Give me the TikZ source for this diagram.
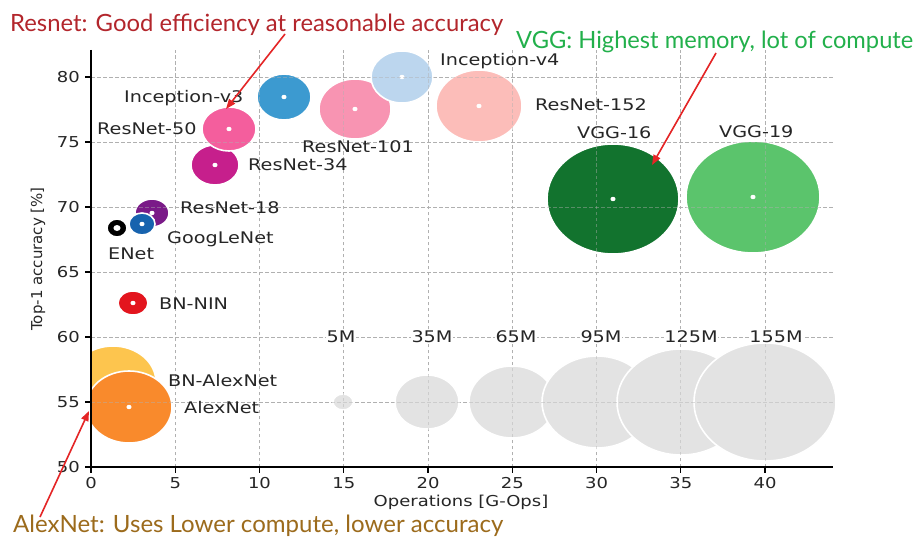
\documentclass[tikz,border=0pt]{standalone}
\usepackage{fontspec}
\usepackage{graphicx}
\usetikzlibrary{arrows.meta}
\newfontfamily\pf[FakeStretch=1.2]{DejaVu Sans}
\newfontfamily\pfn{DejaVu Sans}
\newfontfamily\ttlfont{Lato}
\definecolor{plottext}{HTML}{262626}
\definecolor{gridgray}{HTML}{B0B0B0}
\definecolor{bubgray}{HTML}{E3E3E3}
\definecolor{cENet}{HTML}{000000}
\definecolor{cGoog}{HTML}{1763AE}
\definecolor{cR18}{HTML}{7A1A88}
\definecolor{cR34}{HTML}{C61F8C}
\definecolor{cR50}{HTML}{F45E9D}
\definecolor{cR101}{HTML}{F894B2}
\definecolor{cR152}{HTML}{FCBDB9}
\definecolor{cIv3}{HTML}{3C9AD0}
\definecolor{cIv4}{HTML}{BCD6EE}
\definecolor{cV16}{HTML}{12732E}
\definecolor{cV19}{HTML}{5BC46C}
\definecolor{cNIN}{HTML}{E3151E}
\definecolor{cBNA}{HTML}{FDC54E}
\definecolor{cAlex}{HTML}{F98A2C}
\definecolor{resred}{HTML}{B3262C}
\definecolor{vggreen}{HTML}{22B04B}
\definecolor{alexbrown}{HTML}{9C6B1C}
\definecolor{arrowred}{HTML}{E42526}
\newcommand\mybub[5]{%
  \path[fill=#5, draw=white, line width=1.6pt] (#1,#2) ellipse [x radius=#3, y radius=#4];
  \fill[white] (#1,#2) ellipse [x radius=2.6, y radius=2.2];}
\newcommand\graybub[3]{%
  \path[fill=bubgray, draw=white, line width=1.6pt] (#1,402) ellipse [x radius=#2, y radius=#3];}
\begin{document}
\begin{tikzpicture}[x=1pt,y=-1pt,
  lbl/.style={font=\pf\fontsize{16}{18}\selectfont, text=plottext, anchor=base west, inner sep=0pt},
  ticklbl/.style={font=\pf\fontsize{15}{17}\selectfont, text=plottext, inner sep=0pt},
  sizelbl/.style={font=\pf\fontsize{16}{18}\selectfont, text=plottext, fill=white, inner sep=0.6pt},
  gridline/.style={draw=gridgray, line width=0.9pt, dash pattern=on 3.5pt off 2.5pt},
  redarrow/.style={draw=arrowred, line width=1.6pt, -{Triangle[length=10pt,width=7.5pt]}},
  ttl/.style={inner sep=0pt, anchor=base west}]
\useasboundingbox (0,0) rectangle (917,540);
\fill[white] (0,0) rectangle (917,540);
% grid (under)
\foreach \k in {1,...,8} \draw[gridline] ({91+84.25*\k},467) -- ({91+84.25*\k},50);
\foreach \k in {1,...,6} \draw[gridline] (91,{467-65*\k}) -- (833,{467-65*\k});
% bubbles
\begin{scope}
\clip (91,40) rectangle (840,467);
\mybub{117}{228}{10}{9}{cENet}
\fill[white] (117,228) ellipse [x radius=3.6, y radius=3];
\mybub{152}{213}{17}{14}{cR18}
\mybub{142}{224}{13}{11}{cGoog}
\mybub{133}{303}{15}{12}{cNIN}
\mybub{113}{382}{43}{36}{cBNA}
\mybub{129}{407}{43}{36}{cAlex}
\mybub{215}{165}{24}{20}{cR34}
\mybub{229}{129}{27}{22}{cR50}
\mybub{284}{97}{27}{23}{cIv3}
\mybub{355}{109}{36}{30}{cR101}
\mybub{402}{77}{31}{26}{cIv4}
\mybub{479}{106}{43}{36}{cR152}
\mybub{613}{199}{66}{55}{cV16}
\mybub{753}{197}{67}{56}{cV19}
\graybub{343}{10}{8}
\graybub{427}{32}{27}
\graybub{512}{43}{36}
\graybub{597}{55}{46}
\graybub{681}{64}{53}
\graybub{765}{71}{59}
\end{scope}
% grid (faint, over bubbles)
\begin{scope}[opacity=0.45]
\foreach \k in {1,...,8} \draw[gridline] ({91+84.25*\k},467) -- ({91+84.25*\k},50);
\foreach \k in {1,...,6} \draw[gridline] (91,{467-65*\k}) -- (833,{467-65*\k});
\end{scope}
% axes
\draw[black, line width=2pt] (91,50) -- (91,467) -- (833,467);
\foreach \k in {0,...,8} \draw[black, line width=1.4pt] ({91+84.25*\k},467) -- ({91+84.25*\k},473);
\foreach \k in {0,...,6} \draw[black, line width=1.4pt] (91,{467-65*\k}) -- (85,{467-65*\k});
\foreach \k/\t in {0/0,1/5,2/10,3/15,4/20,5/25,6/30,7/35,8/40}
  \node[ticklbl, anchor=north] (xt\k) at ({91+84.25*\k},477) {\t};
\foreach \k/\t in {0/50,1/55,2/60,3/65,4/70,5/75,6/80}
  \node[ticklbl, anchor=east] (yt\k) at (80,{467-65*\k}) {\t};
\node[font=\pf\fontsize{15}{17}\selectfont, text=plottext] (xlab) at (461,502) {Operations [G-Ops]};
\node[font=\pfn\fontsize{15}{17}\selectfont, text=plottext, rotate=90] (ylab) at (38,259) {Top-1 accuracy [\%]};
% bubble labels (baseline = cap centre + 6)
\node[lbl] (lIv3) at (124,103) {Inception-v3};
\node[lbl] (lR50) at (97,135) {ResNet-50};
\node[lbl] (lR101) at (302,153) {ResNet-101};
\node[lbl] (lR34) at (248,171) {ResNet-34};
\node[lbl] (lR18) at (180,213) {ResNet-18};
\node[lbl] (lGoog) at (167,243) {GoogLeNet};
\node[lbl] (lENet) at (108,259) {ENet};
\node[lbl] (lIv4) at (440,66) {Inception-v4};
\node[lbl] (lR152) at (535,111) {ResNet-152};
\node[lbl] (lV16) at (577,139) {VGG-16};
\node[lbl] (lV19) at (719,138) {VGG-19};
\node[lbl] (lNIN) at (159,309) {BN-NIN};
\node[lbl] (lBNA) at (168,386) {BN-AlexNet};
\node[lbl] (lAlex) at (184,413) {AlexNet};
% size labels
\node[sizelbl] (s5) at (341,337) {5M};
\node[sizelbl] (s35) at (432,337) {35M};
\node[sizelbl] (s65) at (516,337) {65M};
\node[sizelbl] (s95) at (601,337) {95M};
\node[sizelbl] (s125) at (691,337) {125M};
\node[sizelbl] (s155) at (776,337) {155M};
% titles
\node[ttl, text=resred] (tres) at (10,32) {\resizebox{493pt}{17.5pt}{\ttlfont Resnet: Good efficiency at reasonable accuracy}};
\node[ttl, text=vggreen] (tvgg) at (516,49) {\resizebox{397pt}{17.5pt}{\ttlfont VGG: Highest memory, lot of compute}};
\node[ttl, text=alexbrown] (talex) at (13,532) {\resizebox{490pt}{17.5pt}{\ttlfont AlexNet: Uses Lower compute, lower accuracy}};
% arrows
\coordinate (a1s) at (285,34);
\coordinate (a1e) at (226,109);
\coordinate (a2s) at (716,53);
\coordinate (a2e) at (652,165);
\coordinate (a3s) at (40,517);
\coordinate (a3e) at (89,411);
\draw[redarrow] (a1s) -- (a1e);
\draw[redarrow] (a2s) -- (a2e);
\draw[redarrow] (a3s) -- (a3e);
\end{tikzpicture}
\end{document}
